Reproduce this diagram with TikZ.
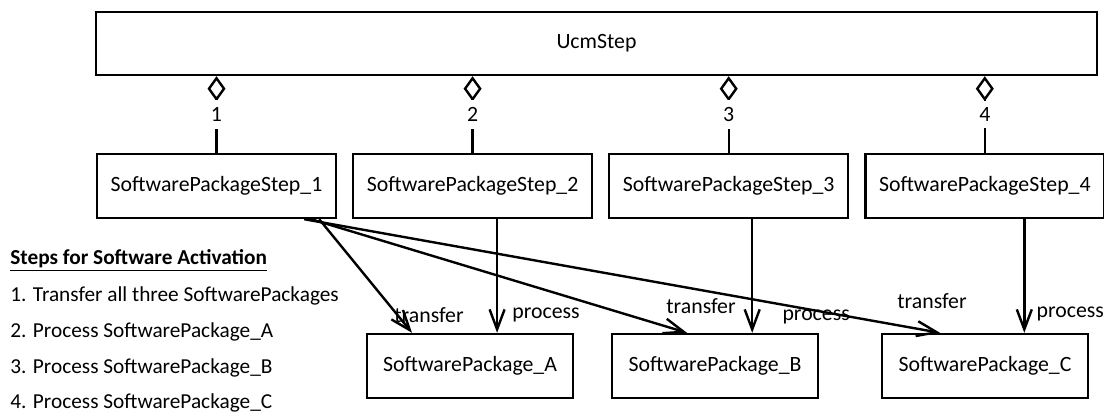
\documentclass[tikz,border=0pt]{standalone}
\usepackage{fontspec}
\setmainfont{Carlito}
\usetikzlibrary{arrows.meta,positioning,calc}
\newcommand{\umlfont}{\fontsize{10.9}{13}\selectfont}
\tikzset{
  uml/class/.style={draw, line width=1.2pt, minimum width=119.5pt, minimum height=32pt, inner sep=2pt, align=center, font=\umlfont},
  uml/top/.style={uml/class, minimum width=500.5pt, minimum height=31.5pt},
  uml/pkg/.style={uml/class, minimum width=103pt},
  uml/aggr/.style={line width=1.2pt, -{Diamond[open, length=12.5pt, width=9pt]}},
  uml/assoc/.style={line width=1.2pt, -{Straight Barb[length=10pt, width=7.5pt]}},
  uml/mult/.style={fill=white, inner sep=3.5pt, font=\umlfont},
  uml/role/.style={inner sep=0pt, font=\umlfont},
  uml/note/.style={anchor=base west, inner sep=0pt, font=\fontsize{10.65}{13}\selectfont}
}

\begin{document}
\begin{tikzpicture}[x=0.5pt, y=-0.5pt, node distance=7.35pt]
  \useasboundingbox (0,0) rectangle (1104,412);
  \node[uml/top] (ucm) at (596.5,43.5) {UcmStep};
  \node[uml/class] (s1) at (216.5,186) {SoftwarePackageStep\_1};
  \node[uml/class, right=of s1] (s2) {SoftwarePackageStep\_2};
  \node[uml/class, right=of s2] (s3) {SoftwarePackageStep\_3};
  \node[uml/class, right=of s3] (s4) {SoftwarePackageStep\_4};
  \node[uml/pkg] (pA) at (470,366) {SoftwarePackage\_A};
  \node[uml/pkg] (pB) at (715,366) {SoftwarePackage\_B};
  \node[uml/pkg] (pC) at (985,366) {SoftwarePackage\_C};

  \draw[uml/aggr] (s1.north) -- node[uml/mult] {1} (s1.north |- ucm.south);
  \draw[uml/aggr] (s2.north) -- node[uml/mult] {2} (s2.north |- ucm.south);
  \draw[uml/aggr] (s3.north) -- node[uml/mult] {3} (s3.north |- ucm.south);
  \draw[uml/aggr] (s4.north) -- node[uml/mult] {4} (s4.north |- ucm.south);

  \coordinate (p2) at ([xshift=12.25pt]s2.south);
  \coordinate (p3) at ([xshift=11.75pt]s3.south);
  \coordinate (p4) at ([xshift=19.75pt]s4.south);
  \draw[uml/assoc] (p2) -- (p2 |- pA.north) node[uml/role, xshift=24.5pt, yshift=9pt] {process};
  \draw[uml/assoc] (p3) -- (p3 |- pB.north) node[uml/role, xshift=32pt, yshift=8pt] {process};
  \draw[uml/assoc] (p4) -- (p4 |- pC.north) node[uml/role, xshift=23pt, yshift=9.5pt] {process};

  \draw[uml/assoc] ([xshift=-9pt]s1.south east) -- ([xshift=-29pt]pA.north) node[uml/role, xshift=8.5pt, yshift=9pt] {transfer};
  \draw[uml/assoc] ([xshift=-13pt]s1.south east) -- ([xshift=-14pt]pB.north) node[uml/role, xshift=7pt, yshift=13.5pt] {transfer};
  \draw[uml/assoc] ([xshift=-16.5pt]s1.south east) -- ([xshift=-22.5pt]pC.north) node[uml/role, xshift=-4pt, yshift=16pt] {transfer};

  \node[uml/note, font=\fontsize{10.65}{13}\selectfont\bfseries] (title) at (10,264) {\underline{Steps for Software Activation}};
  \node[uml/note] (n1) at (10,301.5) {1. Transfer all three SoftwarePackages};
  \node[uml/note] (n2) at (10,337) {2. Process SoftwarePackage\_A};
  \node[uml/note] (n3) at (10,373) {3. Process SoftwarePackage\_B};
  \node[uml/note] (n4) at (10,408) {4. Process SoftwarePackage\_C};
\end{tikzpicture}
\end{document}
